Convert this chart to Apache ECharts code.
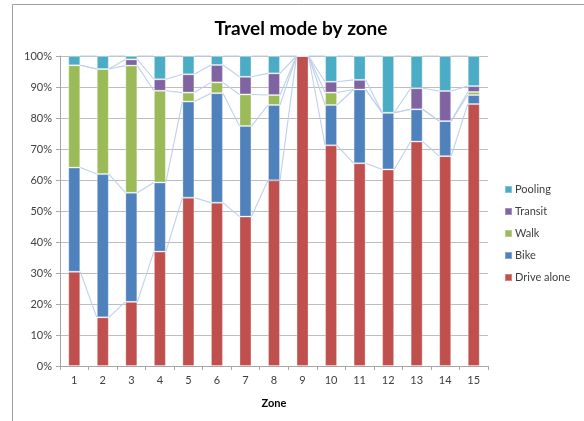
<!DOCTYPE html>
<html>
<head>
<meta charset="utf-8">
<script src="https://cdn.jsdelivr.net/npm/echarts@6/dist/echarts.min.js"></script>
<style>
  html, body { margin: 0; padding: 0; background: #fff; }
  #chart { width: 584px; height: 421px; }
</style>
</head>
<body>
<div id="chart"></div>
<script>
// Share of trips by travel mode for each zone (percent)
const zones = ['1','2','3','4','5','6','7','8','9','10','11','12','13','14','15'];
const driveAlone = [30.4, 15.7, 20.7, 36.9, 54.3, 52.7, 48.2, 59.9, 100, 71.2, 65.4, 63.4, 72.4, 67.7, 84.5];
const bike       = [33.6, 46.2, 35.2, 22.3, 31.0, 35.3, 29.2, 24.3, 0, 13.0, 23.8, 18.3, 10.4, 11.3, 2.9];
const walk       = [33.0, 33.9, 41.0, 29.6, 2.9, 3.5, 10.2, 3.2, 0, 4.0, 0, 0, 0, 0, 1.0];
const transit    = [0, 0, 2.0, 3.7, 5.9, 5.6, 5.7, 7.0, 0, 3.5, 3.1, 0, 6.8, 9.7, 1.9];
const pooling    = [3.0, 4.2, 1.1, 7.5, 5.9, 2.9, 6.7, 5.6, 0, 8.3, 7.7, 18.3, 10.4, 11.3, 9.7];
const yTicks = [0, 10, 20, 30, 40, 50, 60, 70, 80, 90, 100];

const stackOrder = [
  { name: 'Drive alone', data: driveAlone, color: '#C0504D' },
  { name: 'Bike',        data: bike,       color: '#4F81BD' },
  { name: 'Walk',        data: walk,       color: '#9BBB59' },
  { name: 'Transit',     data: transit,    color: '#8064A2' },
  { name: 'Pooling',     data: pooling,    color: '#4BACC6' }
];

// cumulative tops of each stacked segment, per zone
const cumulative = zones.map((z, i) => {
  let s = 0;
  return stackOrder.map(ser => (s += ser.data[i]));
});

const BAR_W = 12;
const font = 'Lato, "Open Sans", sans-serif';

const barSeries = stackOrder.map(ser => ({
  name: ser.name,
  type: 'bar',
  stack: 'mode',
  barWidth: BAR_W,
  data: ser.data,
  itemStyle: { color: ser.color, borderColor: 'rgba(255,255,255,0.3)', borderWidth: 1 },
  emphasis: { disabled: true },
  z: 3
}));

// series lines joining segment tops between neighbouring columns
const seriesLines = {
  type: 'custom',
  silent: true,
  z: 4,
  data: zones.slice(0, zones.length - 1).map((z, i) => [i]),
  renderItem: function (params, api) {
    const i = api.value(0);
    const children = [];
    for (let k = 0; k < stackOrder.length; k++) {
      const a = api.coord([i, cumulative[i][k]]);
      const b = api.coord([i + 1, cumulative[i + 1][k]]);
      children.push({
        type: 'line',
        shape: { x1: a[0] + BAR_W / 2, y1: a[1], x2: b[0] - BAR_W / 2, y2: b[1] },
        style: { stroke: '#bed0ec', lineWidth: 1.1 }
      });
    }
    return { type: 'group', children: children };
  }
};

const chart = echarts.init(document.getElementById('chart'), null, { renderer: 'canvas' });
chart.setOption({
  animation: false,
  backgroundColor: '#fff',
  title: {
    text: 'Travel mode by zone',
    left: 296,
    textAlign: 'center',
    top: 14,
    textStyle: { fontFamily: font, fontWeight: 'bold', fontSize: 19, color: '#000' }
  },
  legend: {
    orient: 'vertical',
    left: 499,
    top: 179,
    itemWidth: 7,
    itemHeight: 7,
    itemGap: 11,
    icon: 'rect',
    data: ['Pooling', 'Transit', 'Walk', 'Bike', 'Drive alone'],
    textStyle: { fontFamily: font, fontSize: 11, color: '#404040', padding: [0, 0, 0, -2] }
  },
  grid: { left: 60, right: 96, top: 56, bottom: 55, containLabel: false },
  xAxis: {
    type: 'category',
    data: zones,
    name: 'Zone',
    nameLocation: 'middle',
    nameGap: 32,
    nameTextStyle: { fontFamily: font, fontWeight: 'bold', fontSize: 11, color: '#000' },
    axisLine: { lineStyle: { color: '#a6a6a6' } },
    axisTick: { show: true, length: 4, lineStyle: { color: '#a6a6a6' } },
    axisLabel: { fontFamily: font, fontSize: 11, color: '#404040', margin: 9 },
    splitLine: { show: false }
  },
  yAxis: {
    type: 'value',
    min: 0,
    max: 100,
    interval: 10,
    axisLine: { show: true, lineStyle: { color: '#a6a6a6' } },
    axisTick: { show: true, length: 4, lineStyle: { color: '#a6a6a6' } },
    axisLabel: {
      fontFamily: font, fontSize: 11, color: '#404040', margin: 8,
      formatter: v => (yTicks.indexOf(v) >= 0 ? v + '%' : '')
    },
    splitLine: { lineStyle: { color: '#bdbdbd', width: 1 } }
  },
  graphic: [
    {
      type: 'polyline',
      silent: true,
      shape: { points: [[12.5, 421], [12.5, 4.5], [584, 4.5]] },
      style: { stroke: '#a0a0a0', lineWidth: 1, fill: null }
    }
  ],
  series: barSeries.concat([seriesLines])
});
</script>
</body>
</html>
